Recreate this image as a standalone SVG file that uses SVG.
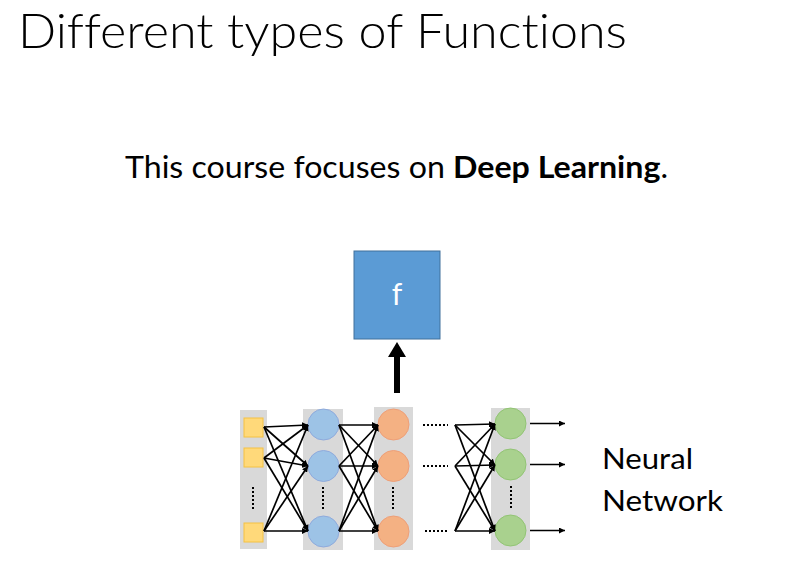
<svg xmlns="http://www.w3.org/2000/svg" width="789" height="583" viewBox="0 0 789 583">
<defs>
<marker id="ah" markerUnits="userSpaceOnUse" markerWidth="6" markerHeight="6" refX="6" refY="3" orient="auto">
<path d="M0,0 L6,3 L0,6 z" fill="#000"/>
</marker>
<style>
.t{font-family:Lato,"Open Sans","Liberation Sans",sans-serif;fill:#000;font-variant-ligatures:none}
.col{fill:#D9D9D9}
.sq{fill:#FFD97A;stroke:#F5C242;stroke-width:1}
.bc{fill:#9DC3E6;stroke:#8FAADC;stroke-width:1}
.oc{fill:#F4B183;stroke:#EE9F78;stroke-width:1}
.gc{fill:#A9D18E;stroke:#92C474;stroke-width:1}
.ln{stroke:#000;stroke-width:1.7;fill:none;marker-end:url(#ah)}
.dots{stroke:#000;stroke-width:2;stroke-dasharray:2 2;fill:none}
</style>
</defs>
<rect width="789" height="583" fill="#fff"/>
<text class="t" x="18" y="48" font-size="47" font-weight="300" textLength="609" lengthAdjust="spacingAndGlyphs">Different types of Functions</text>
<text class="t" x="125" y="178" font-size="31" textLength="543" lengthAdjust="spacingAndGlyphs">This course focuses on <tspan font-weight="bold">Deep Learning</tspan>.</text>

<g id="f-box">
<rect x="354" y="251" width="86" height="88" fill="#5B9BD5" stroke="#41719C" stroke-width="1"/>
<text x="397" y="305" font-family="Lato,'Open Sans','Liberation Sans',sans-serif" font-size="30" fill="#fff" text-anchor="middle">f</text>
</g>
<g id="big-arrow">
<rect x="394" y="356" width="6" height="37" fill="#000"/>
<polygon points="388,357 406,357 397,342" fill="#000"/>
</g>

<g id="input-layer">
<rect class="col" x="240" y="410" width="27" height="139"/>
<rect class="sq" x="244" y="418" width="19" height="19"/>
<rect class="sq" x="244" y="448" width="19" height="19"/>
<rect class="sq" x="244" y="523" width="19" height="19"/>
<line class="dots" x1="253" y1="487" x2="253" y2="511"/>
</g>
<g id="hidden-layer-1">
<rect class="col" x="303" y="409" width="40" height="141"/>
<circle class="bc" cx="323.5" cy="424.5" r="15.5"/>
<circle class="bc" cx="323.5" cy="466" r="15.5"/>
<circle class="bc" cx="323.5" cy="531.5" r="15.5"/>
<line class="dots" x1="323" y1="487" x2="323" y2="511"/>
</g>
<g id="hidden-layer-2">
<rect class="col" x="374" y="407" width="39" height="143"/>
<circle class="oc" cx="393.5" cy="424.5" r="15.5"/>
<circle class="oc" cx="393.5" cy="466" r="15.5"/>
<circle class="oc" cx="393.5" cy="531.5" r="15.5"/>
<line class="dots" x1="393" y1="487" x2="393" y2="511"/>
</g>
<g id="output-layer">
<rect class="col" x="491" y="408" width="39" height="142"/>
<circle class="gc" cx="510.5" cy="423.5" r="15.5"/>
<circle class="gc" cx="510.5" cy="464.5" r="15.5"/>
<circle class="gc" cx="510.5" cy="530.5" r="15.5"/>
<line class="dots" x1="511" y1="486" x2="511" y2="510"/>
</g>

<g id="connectors">
<line class="ln" x1="264" y1="427" x2="308" y2="425"/>
<line class="ln" x1="264" y1="427" x2="308" y2="466"/>
<line class="ln" x1="264" y1="427" x2="308" y2="531"/>
<line class="ln" x1="264" y1="458" x2="308" y2="425"/>
<line class="ln" x1="264" y1="458" x2="308" y2="466"/>
<line class="ln" x1="264" y1="458" x2="308" y2="531"/>
<line class="ln" x1="264" y1="531" x2="308" y2="425"/>
<line class="ln" x1="264" y1="531" x2="308" y2="466"/>
<line class="ln" x1="264" y1="531" x2="308" y2="531"/>

<line class="ln" x1="339" y1="425" x2="378" y2="425"/>
<line class="ln" x1="339" y1="425" x2="378" y2="466"/>
<line class="ln" x1="339" y1="425" x2="378" y2="531"/>
<line class="ln" x1="339" y1="466" x2="378" y2="425"/>
<line class="ln" x1="339" y1="466" x2="378" y2="466"/>
<line class="ln" x1="339" y1="466" x2="378" y2="531"/>
<line class="ln" x1="339" y1="531" x2="378" y2="425"/>
<line class="ln" x1="339" y1="531" x2="378" y2="466"/>
<line class="ln" x1="339" y1="531" x2="378" y2="531"/>

<line class="dots" x1="423" y1="425" x2="448" y2="425"/>
<line class="dots" x1="423" y1="466" x2="448" y2="466"/>
<line class="dots" x1="425" y1="531" x2="448" y2="531"/>

<line class="ln" x1="455" y1="425" x2="495" y2="424"/>
<line class="ln" x1="455" y1="425" x2="495" y2="465"/>
<line class="ln" x1="455" y1="425" x2="495" y2="531"/>
<line class="ln" x1="455" y1="466" x2="495" y2="424"/>
<line class="ln" x1="455" y1="466" x2="495" y2="465"/>
<line class="ln" x1="455" y1="466" x2="495" y2="531"/>
<line class="ln" x1="455" y1="531" x2="495" y2="424"/>
<line class="ln" x1="455" y1="531" x2="495" y2="465"/>
<line class="ln" x1="455" y1="531" x2="495" y2="531"/>

<line class="ln" x1="530" y1="423.5" x2="565" y2="423.5"/>
<line class="ln" x1="530" y1="464.5" x2="565" y2="464.5"/>
<line class="ln" x1="530" y1="530.5" x2="565" y2="530.5"/>
</g>

<g id="label">
<text class="t" x="602" y="469" font-size="29" textLength="91" lengthAdjust="spacingAndGlyphs">Neural</text>
<text class="t" x="602" y="511" font-size="29" textLength="121" lengthAdjust="spacingAndGlyphs">Network</text>
</g>
</svg>
